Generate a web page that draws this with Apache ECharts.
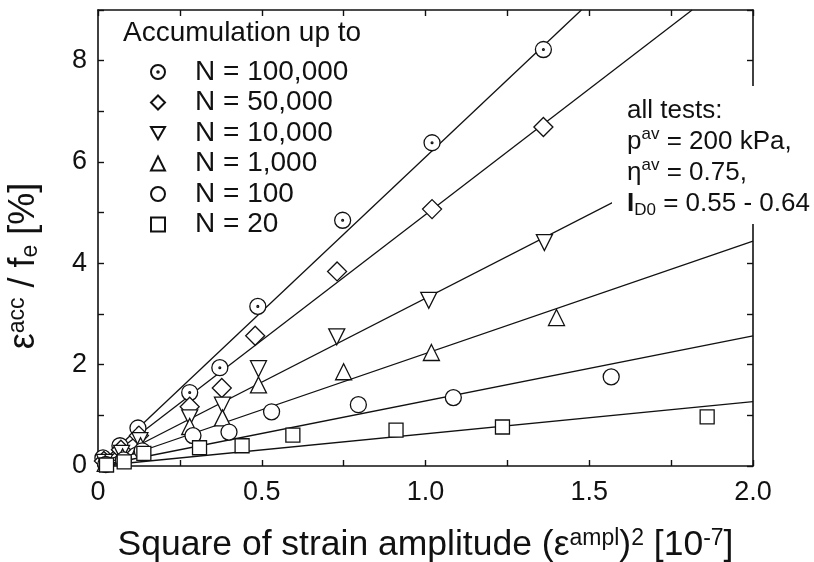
<!DOCTYPE html>
<html><head><meta charset="utf-8">
<script src="https://cdn.jsdelivr.net/npm/echarts@6/dist/echarts.min.js"></script>
<style>html,body{margin:0;padding:0;background:#fff}#c{width:814px;height:562px}</style>
</head><body><div id="c"></div>
<script>
// Accumulated strain per cycle-count group: [(eps_ampl)^2 in 1e-7, eps_acc / f_e in %]
const groupNames = ['N = 100,000', 'N = 50,000', 'N = 10,000', 'N = 1,000', 'N = 100', 'N = 20'];
const n100000 = [[0.015,0.16],[0.067,0.40],[0.122,0.75],[0.28,1.45],[0.372,1.94],[0.488,3.15],[0.747,4.85],[1.02,6.38],[1.36,8.22]];
const n50000  = [[0.018,0.10],[0.07,0.32],[0.125,0.60],[0.28,1.17],[0.378,1.54],[0.48,2.57],[0.73,3.84],[1.02,5.07],[1.36,6.69]];
const n10000  = [[0.02,0.07],[0.072,0.25],[0.128,0.50],[0.28,0.95],[0.38,1.20],[0.49,1.92],[0.729,2.55],[1.01,3.27],[1.363,4.41]];
const n1000   = [[0.022,0.05],[0.075,0.18],[0.13,0.40],[0.28,0.78],[0.38,0.95],[0.49,1.60],[0.75,1.86],[1.018,2.24],[1.40,2.93]];
const n100    = [[0.024,0.03],[0.078,0.12],[0.135,0.30],[0.29,0.60],[0.40,0.67],[0.53,1.07],[0.795,1.21],[1.085,1.35],[1.567,1.76]];
const n20     = [[0.026,0.02],[0.08,0.08],[0.14,0.25],[0.31,0.36],[0.44,0.40],[0.595,0.61],[0.91,0.71],[1.235,0.77],[1.86,0.97]];

// Linear fits through the origin (start and end point of each line)
const fit100000 = [[0,0],[1.476,9]];
const fit50000  = [[0,0],[1.814,9]];
const fit10000  = [[0,0],[2.0,6.62]];
const fit1000   = [[0,0],[2.0,4.44]];
const fit100    = [[0,0],[2.0,2.57]];
const fit20     = [[0,0],[2.0,1.27]];

// Axis tick labels
const xTickValues = [0, 0.5, 1.0, 1.5, 2.0];
const xTickLabels = ['0', '0.5', '1.0', '1.5', '2.0'];
const yTickValues = [0, 2, 4, 6, 8];
const yTickLabels = ['0', '2', '4', '6', '8'];

const FONT = '"Liberation Sans", Arial, Helvetica, sans-serif';
const dotCircle = 'path://M0,-8A8,8 0 1,1 0,8A8,8 0 1,1 0,-8ZM0.9,0A0.9,0.9 0 1,1 -0.9,0A0.9,0.9 0 1,1 0.9,0Z';
const downTriangle = 'path://M-8,-7L8,-7L0,7Z';

const groups = [
  { data: n100000, fit: fit100000, symbol: dotCircle, size: 16 },
  { data: n50000,  fit: fit50000,  symbol: 'diamond', size: 19 },
  { data: n10000,  fit: fit10000,  symbol: downTriangle, size: 16 },
  { data: n1000,   fit: fit1000,   symbol: 'triangle', size: 16 },
  { data: n100,    fit: fit100,    symbol: 'circle', size: 16 },
  { data: n20,     fit: fit20,     symbol: 'rect', size: 14 }
];

const series = [];
groups.forEach((g, i) => {
  series.push({
    name: 'fit ' + groupNames[i],
    type: 'line',
    data: g.fit,
    showSymbol: false,
    silent: true,
    z: 2,
    lineStyle: { color: '#111', width: 1.3 }
  });
});
groups.forEach((g, i) => {
  series.push({
    name: groupNames[i],
    type: 'scatter',
    data: g.data,
    symbol: g.symbol,
    symbolSize: g.size,
    z: 3,
    itemStyle: { color: '#fff', borderColor: '#111', borderWidth: 1.3, opacity: 1 }
  });
});

const tickLabel = (values, labels) => v => {
  const k = values.findIndex(t => Math.abs(t - v) < 1e-9);
  return k >= 0 ? labels[k] : '';
};

const axisCommon = {
  axisLine: { show: true, onZero: false, lineStyle: { color: '#111', width: 1.6 } },
  axisTick: { show: true, inside: true, length: 6, lineStyle: { color: '#111', width: 1.4 } },
  splitLine: { show: false }
};

const chart = echarts.init(document.getElementById('c'), null, { renderer: 'canvas' });
chart.setOption({
  animation: false,
  backgroundColor: '#fff',
  textStyle: { fontFamily: FONT },
  grid: { left: 98, right: 61, top: 10, bottom: 96, containLabel: false, outerBoundsMode: 'none' },
  title: {
    text: 'Accumulation up to',
    left: 118, top: 14,
    textStyle: { fontFamily: FONT, fontSize: 28, fontWeight: 'normal', color: '#111' }
  },
  legend: {
    data: groupNames,
    orient: 'vertical',
    left: 145, top: 53,
    itemWidth: 14, itemHeight: 14,
    itemGap: 2.5,
    selectedMode: false,
    textStyle: { fontFamily: FONT, fontSize: 28, color: '#111', lineHeight: 28, padding: [0, 0, 0, 25] }
  },
  xAxis: [
    Object.assign({}, axisCommon, {
      type: 'value', min: 0, max: 2, interval: 0.25, position: 'bottom',
      axisLabel: { fontFamily: FONT, fontSize: 27, color: '#111', margin: 13, formatter: tickLabel(xTickValues, xTickLabels) },
      name: 'Square of strain amplitude (ε{sup|ampl})' + '{sup|2} [10{sup|-7}]',
      nameLocation: 'middle', nameGap: 61,
      nameTextStyle: {
        fontFamily: FONT, fontSize: 35.5, color: '#111',
        rich: { sup: { fontFamily: FONT, fontSize: 23, color: '#111', verticalAlign: 'top', lineHeight: 23 } }
      }
    }),
    Object.assign({}, axisCommon, {
      type: 'value', min: 0, max: 2, interval: 0.25, position: 'top',
      axisLabel: { show: false }
    })
  ],
  yAxis: [
    Object.assign({}, axisCommon, {
      type: 'value', min: 0, max: 9, interval: 1, position: 'left',
      axisLabel: { fontFamily: FONT, fontSize: 27, color: '#111', margin: 11, formatter: tickLabel(yTickValues, yTickLabels) },
      name: 'ε{sup|acc} / f{sub|e} [%]',
      nameLocation: 'middle', nameGap: 56, nameRotate: 90,
      nameTextStyle: {
        fontFamily: FONT, fontSize: 36, color: '#111', padding: [0, 56, 0, 0],
        rich: {
          sup: { fontFamily: FONT, fontSize: 23, color: '#111', verticalAlign: 'top', lineHeight: 23 },
          sub: { fontFamily: FONT, fontSize: 23, color: '#111', verticalAlign: 'bottom', lineHeight: 23 }
        }
      }
    }),
    Object.assign({}, axisCommon, {
      type: 'value', min: 0, max: 9, interval: 1, position: 'right',
      axisLabel: { show: false }
    })
  ],
  graphic: [
    {
      type: 'rect', z: 100, silent: true,
      shape: { x: 612, y: 86, width: 202, height: 138 },
      style: { fill: '#fff' }
    },
    {
      type: 'text', z: 101, silent: true,
      left: 627, top: 95,
      style: {
        text: 'all tests:\np{sup|av} = 200 kPa,\nη{sup|av} = 0.75,\n{b|I}{sub|D0} = 0.55 - 0.64',
        fontFamily: FONT, fontSize: 26, fill: '#111', lineHeight: 31,
        rich: {
          sup: { fontFamily: FONT, fontSize: 17, fill: '#111', verticalAlign: 'top', lineHeight: 17 },
          sub: { fontFamily: FONT, fontSize: 17, fill: '#111', verticalAlign: 'bottom', lineHeight: 17 },
          b: { fontFamily: FONT, fontSize: 26, fontWeight: 'bold', fill: '#111', lineHeight: 31 }
        }
      }
    }
  ],
  series: series
});
</script>
</body></html>
